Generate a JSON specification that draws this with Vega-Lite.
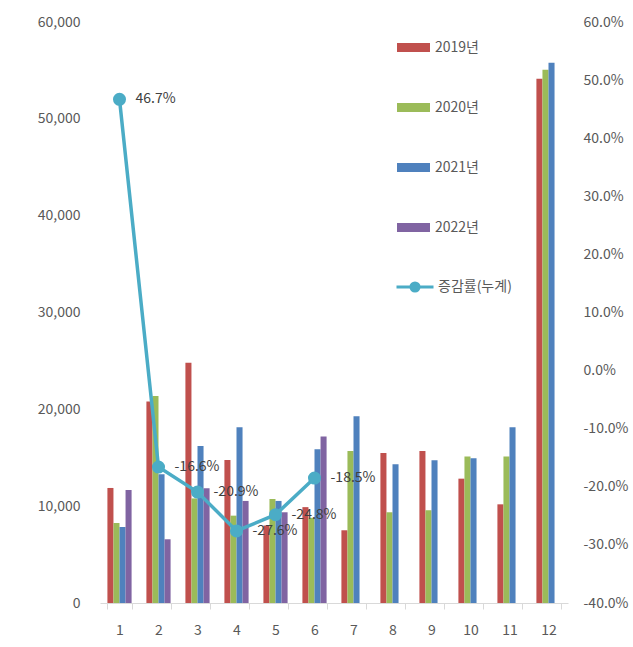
{
  "$schema": "https://vega.github.io/schema/vega-lite/v6.json",
  "width": 468,
  "height": 581,
  "autosize": {"type": "none"},
  "padding": {"left": 100, "top": 22, "right": 65, "bottom": 44},
  "background": "white",
  "datasets": {
    "bars": [
      {"month": 1, "year": "2019년", "value": 11880},
      {"month": 2, "year": "2019년", "value": 20800},
      {"month": 3, "year": "2019년", "value": 24800},
      {"month": 4, "year": "2019년", "value": 14770},
      {"month": 5, "year": "2019년", "value": 8000},
      {"month": 6, "year": "2019년", "value": 9900},
      {"month": 7, "year": "2019년", "value": 7510},
      {"month": 8, "year": "2019년", "value": 15500},
      {"month": 9, "year": "2019년", "value": 15700},
      {"month": 10, "year": "2019년", "value": 12840},
      {"month": 11, "year": "2019년", "value": 10190},
      {"month": 12, "year": "2019년", "value": 54130},
      {"month": 1, "year": "2020년", "value": 8260},
      {"month": 2, "year": "2020년", "value": 21380},
      {"month": 3, "year": "2020년", "value": 10800},
      {"month": 4, "year": "2020년", "value": 9020},
      {"month": 5, "year": "2020년", "value": 10740},
      {"month": 6, "year": "2020년", "value": 8800},
      {"month": 7, "year": "2020년", "value": 15700},
      {"month": 8, "year": "2020년", "value": 9370},
      {"month": 9, "year": "2020년", "value": 9580},
      {"month": 10, "year": "2020년", "value": 15120},
      {"month": 11, "year": "2020년", "value": 15120},
      {"month": 12, "year": "2020년", "value": 55060},
      {"month": 1, "year": "2021년", "value": 7850},
      {"month": 2, "year": "2021년", "value": 13300},
      {"month": 3, "year": "2021년", "value": 16220},
      {"month": 4, "year": "2021년", "value": 18150},
      {"month": 5, "year": "2021년", "value": 10540},
      {"month": 6, "year": "2021년", "value": 15880},
      {"month": 7, "year": "2021년", "value": 19290},
      {"month": 8, "year": "2021년", "value": 14330},
      {"month": 9, "year": "2021년", "value": 14740},
      {"month": 10, "year": "2021년", "value": 14950},
      {"month": 11, "year": "2021년", "value": 18150},
      {"month": 12, "year": "2021년", "value": 55790},
      {"month": 1, "year": "2022년", "value": 11670},
      {"month": 2, "year": "2022년", "value": 6580},
      {"month": 3, "year": "2022년", "value": 11850},
      {"month": 4, "year": "2022년", "value": 10540},
      {"month": 5, "year": "2022년", "value": 9370},
      {"month": 6, "year": "2022년", "value": 17200}
    ],
    "rate": [
      {"month": 1, "series": "증감률(누계)", "rate": 0.467, "label": "46.7%"},
      {"month": 2, "series": "증감률(누계)", "rate": -0.166, "label": "-16.6%"},
      {"month": 3, "series": "증감률(누계)", "rate": -0.209, "label": "-20.9%"},
      {"month": 4, "series": "증감률(누계)", "rate": -0.276, "label": "-27.6%"},
      {"month": 5, "series": "증감률(누계)", "rate": -0.248, "label": "-24.8%"},
      {"month": 6, "series": "증감률(누계)", "rate": -0.185, "label": "-18.5%"}
    ]
  },
  "config": {
    "view": {"stroke": null},
    "font": "Noto Sans CJK KR",
    "axis": {"labelFont": "Noto Sans CJK KR", "labelFontSize": 14, "labelColor": "#595959", "grid": false, "title": null},
    "legend": {"labelFont": "Noto Sans CJK KR", "labelFontSize": 14, "labelColor": "#595959", "padding": 0, "title": null}
  },
  "layer": [
    {
      "data": {"name": "bars"},
      "mark": {"type": "bar"},
      "encoding": {
        "x": {
          "field": "month", "type": "ordinal",
          "scale": {"paddingInner": 0.38, "paddingOuter": 0.19},
          "axis": {"labelAngle": 0, "domainColor": "#D9D9D9", "tickColor": "#D9D9D9", "tickSize": 6, "tickBand": "extent", "labelPadding": 14}
        },
        "xOffset": {"field": "year", "type": "nominal", "scale": {"domain": ["2019년", "2020년", "2021년", "2022년"]}},
        "y": {
          "field": "value", "type": "quantitative",
          "scale": {"domain": [0, 60000], "nice": false},
          "axis": {"values": [0, 10000, 20000, 30000, 40000, 50000, 60000], "format": ",d", "domain": false, "ticks": false, "labelPadding": 20}
        },
        "fill": {
          "field": "year", "type": "nominal",
          "scale": {"domain": ["2019년", "2020년", "2021년", "2022년"], "range": ["#C0504D", "#9BBB59", "#4F81BD", "#8064A2"]},
          "legend": {
            "orient": "none", "legendX": 297, "legendY": 9,
            "symbolType": "M-1,-0.27H1V0.27H-1Z", "symbolSize": 1089, "symbolStrokeWidth": 0,
            "labelOffset": 5, "rowPadding": 36
          }
        }
      }
    },
    {
      "data": {"name": "rate"},
      "encoding": {
        "x": {"field": "month", "type": "ordinal"},
        "y": {
          "field": "rate", "type": "quantitative",
          "scale": {"domain": [-0.4, 0.6], "nice": false},
          "axis": {"orient": "right", "values": [-0.4, -0.3, -0.2, -0.1, 0, 0.1, 0.2, 0.3, 0.4, 0.5, 0.6], "labelExpr": "replace(format(datum.value, '.1%'), '−', '-')", "domain": false, "ticks": false, "labelPadding": 15}
        }
      },
      "layer": [
        {
          "mark": {"type": "line", "strokeWidth": 3.5},
          "encoding": {
            "stroke": {
              "field": "series", "type": "nominal",
              "scale": {"range": ["#4BACC6"]},
              "legend": {
                "orient": "none", "legendX": 295, "legendY": 245,
                "symbolType": "M-1,0H1M-0.22,0A0.22,0.22 0 1,0 0.22,0A0.22,0.22 0 1,0 -0.22,0Z",
                "symbolSize": 1369, "symbolStrokeWidth": 3, "symbolFillColor": "#4BACC6",
                "labelOffset": 3
              }
            }
          }
        },
        {
          "mark": {"type": "point", "filled": true, "size": 170, "color": "#4BACC6", "opacity": 1}
        },
        {
          "mark": {"type": "text", "align": "left", "baseline": "middle", "dx": 16, "fontSize": 14, "color": "#404040"},
          "encoding": {"text": {"field": "label", "type": "nominal"}}
        }
      ]
    }
  ],
  "resolve": {"scale": {"y": "independent"}}
}
